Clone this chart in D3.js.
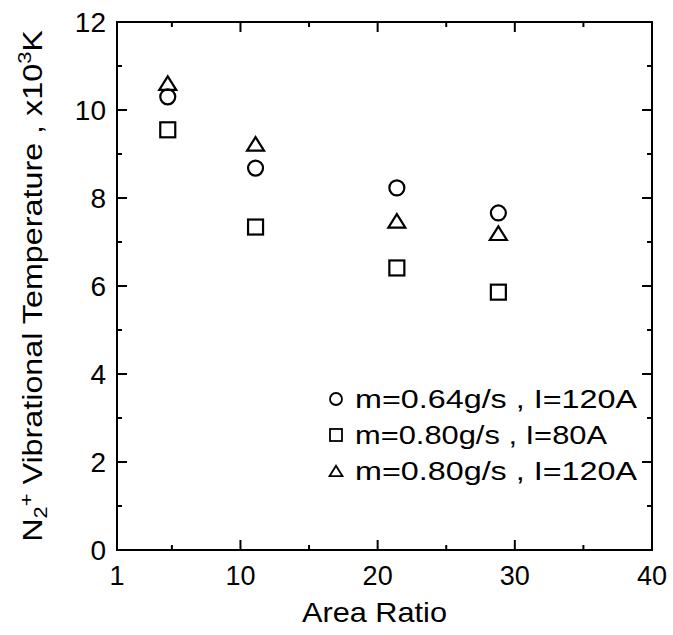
<!DOCTYPE html>
<html>
<head>
<meta charset="utf-8">
<script src="https://cdn.jsdelivr.net/npm/d3@7"></script>
<style>
  body { margin: 0; background: #fff; }
  text { font-family: "Liberation Sans", Arial, sans-serif; fill: #000; }
</style>
</head>
<body>
<div id="chart"></div>
<script>
// data
var areaRatio = [4.7, 11.1, 21.4, 28.8];
var circleVals = [10.3, 8.68, 8.23, 7.66];    // m=0.64g/s, I=120A
var squareVals = [9.55, 7.34, 6.41, 5.86];    // m=0.80g/s, I=80A
var triangleVals = [10.61, 9.23, 7.48, 7.2];  // m=0.80g/s, I=120A
var xTicks = [1, 10, 20, 30, 40];
var xMinor = [5, 15, 25, 35];
var yTicks = [0, 2, 4, 6, 8, 10, 12];
var yMinor = [1, 3, 5, 7, 9, 11];
var legendLabels = ["m=0.64g/s , I=120A", "m=0.80g/s , I=80A", "m=0.80g/s , I=120A"];

var W = 673, H = 635;
var m = { left: 117, right: 21, top: 22, bottom: 85 };

var svg = d3.select("#chart").append("svg")
  .attr("width", W)
  .attr("height", H);

var x = d3.scaleLinear().domain([1, 40]).range([m.left, W - m.right]);
var y = d3.scaleLinear().domain([0, 12]).range([H - m.bottom, m.top]);

var x0 = x.range()[0], x1 = x.range()[1], y0 = y.range()[0], y1 = y.range()[1];

// frame
svg.append("rect")
  .attr("x", x0).attr("y", y1)
  .attr("width", x1 - x0).attr("height", y0 - y1)
  .attr("fill", "none").attr("stroke", "#000").attr("stroke-width", 2);

// ticks, pointing inwards on all four sides
var tk = svg.append("g").attr("stroke", "#000").attr("stroke-width", 2);
function xTick(v, len) {
  tk.append("line").attr("x1", x(v)).attr("x2", x(v)).attr("y1", y0).attr("y2", y0 - len);
  tk.append("line").attr("x1", x(v)).attr("x2", x(v)).attr("y1", y1).attr("y2", y1 + len);
}
function yTick(v, len) {
  tk.append("line").attr("x1", x0).attr("x2", x0 + len).attr("y1", y(v)).attr("y2", y(v));
  tk.append("line").attr("x1", x1).attr("x2", x1 - len).attr("y1", y(v)).attr("y2", y(v));
}
xTicks.slice(1, -1).forEach(function(v) { xTick(v, 10); });
xMinor.forEach(function(v) { xTick(v, 5); });
yTicks.slice(1, -1).forEach(function(v) { yTick(v, 10); });
yMinor.forEach(function(v) { yTick(v, 5); });

// tick labels
svg.append("g").selectAll("text")
  .data(xTicks).enter().append("text")
  .attr("x", function(d) { return x(d); })
  .attr("y", y0 + 35)
  .attr("text-anchor", "middle")
  .attr("font-size", 27)
  .text(function(d) { return d; });

svg.append("g").selectAll("text")
  .data(yTicks).enter().append("text")
  .attr("x", x0 - 11)
  .attr("y", function(d) { return y(d) + 10; })
  .attr("text-anchor", "end")
  .attr("font-size", 28)
  .text(function(d) { return d; });

// axis titles
svg.append("text")
  .attr("x", 374.5)
  .attr("y", 622)
  .attr("text-anchor", "middle")
  .attr("font-size", 28)
  .attr("textLength", 145)
  .attr("lengthAdjust", "spacingAndGlyphs")
  .text("Area Ratio");

var yl = svg.append("text")
  .attr("text-anchor", "middle")
  .attr("font-size", 28);
yl.append("tspan").text("N");
yl.append("tspan").attr("font-size", 19).attr("dy", 5).text("2");
yl.append("tspan").attr("font-size", 19).attr("dy", -14).text("+");
yl.append("tspan").attr("dy", 9).text(" Vibrational Temperature , x10");
yl.append("tspan").attr("font-size", 19).attr("dy", -11).text("3");
yl.append("tspan").attr("dy", 11).text("K");
var ylLen = yl.node().getComputedTextLength();
yl.attr("transform", "translate(42,286) rotate(-90) scale(" + (512 / ylLen) + ",1)");

// markers
var sym = {
  circle: function(g, cx, cy, s) {
    g.append("circle").attr("cx", cx).attr("cy", cy).attr("r", s / 2);
  },
  square: function(g, cx, cy, s) {
    g.append("rect").attr("x", cx - s / 2).attr("y", cy - s / 2).attr("width", s).attr("height", s);
  },
  triangle: function(g, cx, cy, s) {
    var h = s * 0.8;
    g.append("path").attr("d", "M" + cx + "," + (cy - h / 2) + "L" + (cx + s / 2) + "," + (cy + h / 2) +
      "L" + (cx - s / 2) + "," + (cy + h / 2) + "Z");
  }
};

var series = [
  { shape: "circle", vals: circleVals, size: 15 },
  { shape: "square", vals: squareVals, size: 15 },
  { shape: "triangle", vals: triangleVals, size: 17 }
];

var pts = svg.append("g")
  .attr("fill", "none").attr("stroke", "#000").attr("stroke-width", 2.2);
series.forEach(function(s) {
  s.vals.forEach(function(v, i) {
    sym[s.shape](pts, x(areaRatio[i]), y(v), s.size);
  });
});

// legend
var lg = svg.append("g");
var lsym = lg.append("g").attr("fill", "none").attr("stroke", "#000").attr("stroke-width", 1.8);
var legW = [282, 252, 282];
legendLabels.forEach(function(lbl, i) {
  var ly = 399 + i * 36;
  sym[series[i].shape](lsym, 336, ly, i === 2 ? 13 : 12);
  lg.append("text")
    .attr("x", 355).attr("y", ly + 9)
    .attr("font-size", 25)
    .attr("textLength", legW[i])
    .attr("lengthAdjust", "spacingAndGlyphs")
    .text(lbl);
});
</script>
</body>
</html>
